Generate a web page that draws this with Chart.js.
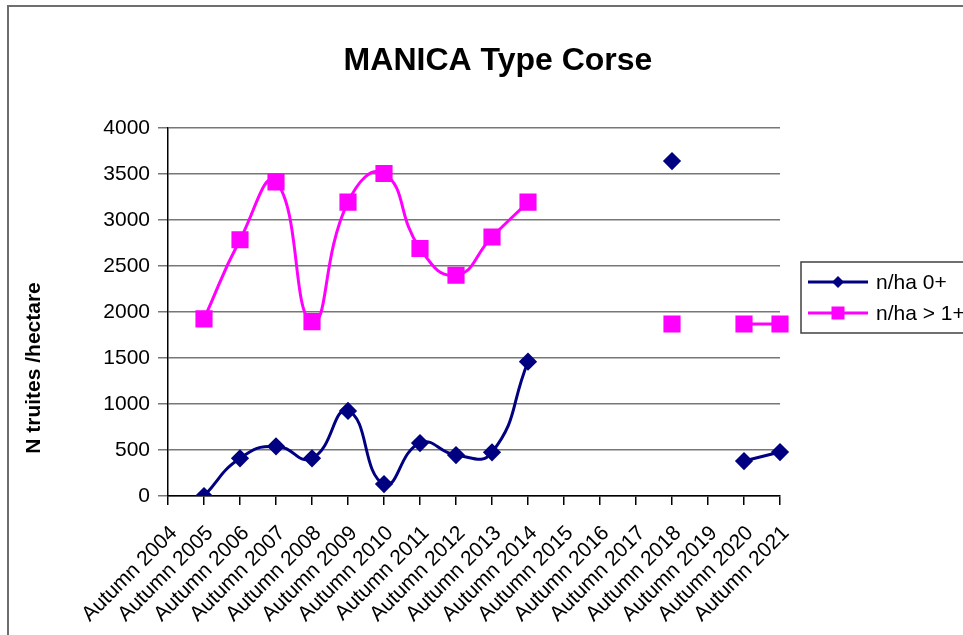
<!DOCTYPE html>
<html>
<head>
<meta charset="utf-8">
<title>MANICA Type Corse</title>
<script src="https://cdn.jsdelivr.net/npm/chart.js@4.4.1/dist/chart.umd.min.js"></script>
<style>
    html, body { margin: 0; padding: 0; background: #fff; overflow: hidden; }
    #wrap { position: relative; width: 963px; height: 635px; overflow: hidden; }
    #frame { position: absolute; left: 7px; top: 5px; width: 1000px; height: 700px;
             border-left: 2px solid #6e6e6e; border-top: 2px solid #6e6e6e; }
    .doc { position: absolute; top: -23px; font: 22px/22px "Liberation Serif", "Times New Roman", serif; color: #000; }
    canvas { position: absolute; left: 0; top: 0; }
</style>
</head>
<body>
<div id="wrap">
    <span class="doc" style="left:88px">y</span>
    <span class="doc" style="left:557px">(</span>
    <span class="doc" style="left:643px">g</span>
    <span class="doc" style="left:728px">)</span>
    <div id="frame"></div>
    <canvas id="myChart" width="963" height="635"></canvas>
</div>
<script>
const chartTitle = 'MANICA Type Corse';
const yTitle = 'N truites /hectare';

const seasons = ['Autumn 2004', 'Autumn 2005', 'Autumn 2006', 'Autumn 2007', 'Autumn 2008',
    'Autumn 2009', 'Autumn 2010', 'Autumn 2011', 'Autumn 2012', 'Autumn 2013', 'Autumn 2014',
    'Autumn 2015', 'Autumn 2016', 'Autumn 2017', 'Autumn 2018', 'Autumn 2019', 'Autumn 2020',
    'Autumn 2021'];

// n/ha 0+
const youngOfYear = [null, 0, 410, 540, 410, 925, 130, 575, 445, 475, 1460,
    null, null, null, 3640, null, 380, 478];

// n/ha > 1+
const olderFish = [null, 1925, 2785, 3415, 1895, 3195, 3505, 2690, 2400, 2815, 3195,
    null, null, null, 1870, null, 1870, 1870];

const yTicks = { min: 0, max: 4000, step: 500 };

const FONT = '"Liberation Sans", Arial, Helvetica, sans-serif';

// titre du graphique et de l'axe Y, placés comme dans Excel
const titlesPlugin = {
    id: 'titles',
    afterDraw(chart) {
        const ctx = chart.ctx;
        ctx.save();
        ctx.fillStyle = '#000';
        ctx.textAlign = 'center';
        ctx.textBaseline = 'middle';
        ctx.font = 'bold 32px ' + FONT;
        ctx.fillText(chartTitle, 498, 61);
        ctx.translate(34, 368);
        ctx.rotate(-Math.PI / 2);
        ctx.font = 'bold 21px ' + FONT;
        ctx.fillText(yTitle, 0, 0);
        ctx.restore();
    }
};

// légende encadrée à droite
const boxLegend = {
    id: 'boxLegend',
    afterDraw(chart) {
        const ctx = chart.ctx;
        ctx.save();
        ctx.strokeStyle = '#404040';
        ctx.lineWidth = 1.5;
        ctx.strokeRect(801, 262, 200, 71);
        chart.data.datasets.forEach(function (ds, i) {
            const y = 282 + i * 31;
            ctx.strokeStyle = ds.borderColor;
            ctx.lineWidth = 3;
            ctx.beginPath();
            ctx.moveTo(808, y);
            ctx.lineTo(868, y);
            ctx.stroke();
            ctx.fillStyle = ds.pointBackgroundColor;
            if (ds.pointStyle === 'rectRot') {
                ctx.beginPath();
                ctx.moveTo(838, y - 6);
                ctx.lineTo(844, y);
                ctx.lineTo(838, y + 6);
                ctx.lineTo(832, y);
                ctx.closePath();
                ctx.fill();
            } else {
                ctx.fillRect(831.5, y - 6.5, 13, 13);
            }
            ctx.fillStyle = '#000';
            ctx.font = '21px ' + FONT;
            ctx.textAlign = 'left';
            ctx.textBaseline = 'middle';
            ctx.fillText(ds.label, 876, y + 1);
        });
        ctx.restore();
    }
};

let ctx = document.getElementById('myChart').getContext('2d');

let chart = new Chart(ctx, {
    type: 'line',
    data: {
        labels: seasons,
        datasets: [{
            label: 'n/ha 0+',
            data: youngOfYear,
            borderColor: '#000080',
            backgroundColor: '#000080',
            pointBackgroundColor: '#000080',
            pointBorderColor: '#000080',
            pointStyle: 'rectRot',
            pointRadius: 7,
            borderWidth: 3,
            tension: 0.5,
            spanGaps: false
        }, {
            label: 'n/ha > 1+',
            data: olderFish,
            borderColor: '#ff00ff',
            backgroundColor: '#ff00ff',
            pointBackgroundColor: '#ff00ff',
            pointBorderColor: '#ff00ff',
            pointStyle: 'rect',
            pointRadius: 10,
            borderWidth: 3,
            tension: 0.5,
            spanGaps: false
        }]
    },
    options: {
        responsive: false,
        animation: false,
        layout: { padding: { left: 0, right: 183, top: 128, bottom: 0 } },
        plugins: {
            legend: { display: false },
            tooltip: { enabled: false },
            title: { display: false }
        },
        scales: {
            x: {
                offset: false,
                grid: { drawOnChartArea: false, drawTicks: true, tickLength: 9, color: '#000', lineWidth: 1.5 },
                border: { display: true, color: '#000', width: 1.5 },
                ticks: {
                    autoSkip: false,
                    maxRotation: 45,
                    minRotation: 45,
                    padding: 16,
                    labelOffset: 6,
                    color: '#000',
                    font: { family: FONT, size: 21 }
                },
                afterFit: function (scale) { scale.height = 139; }
            },
            y: {
                min: yTicks.min,
                max: yTicks.max,
                grid: { color: '#777', lineWidth: 1.5, tickLength: 10 },
                border: { display: true, color: '#000', width: 1.5 },
                ticks: {
                    stepSize: yTicks.step,
                    padding: 8,
                    color: '#000',
                    font: { family: FONT, size: 21 },
                    callback: function (value) { return String(value); }
                },
                afterFit: function (scale) { scale.width = 168; }
            }
        }
    },
    plugins: [titlesPlugin, boxLegend]
});
</script>
</body>
</html>
